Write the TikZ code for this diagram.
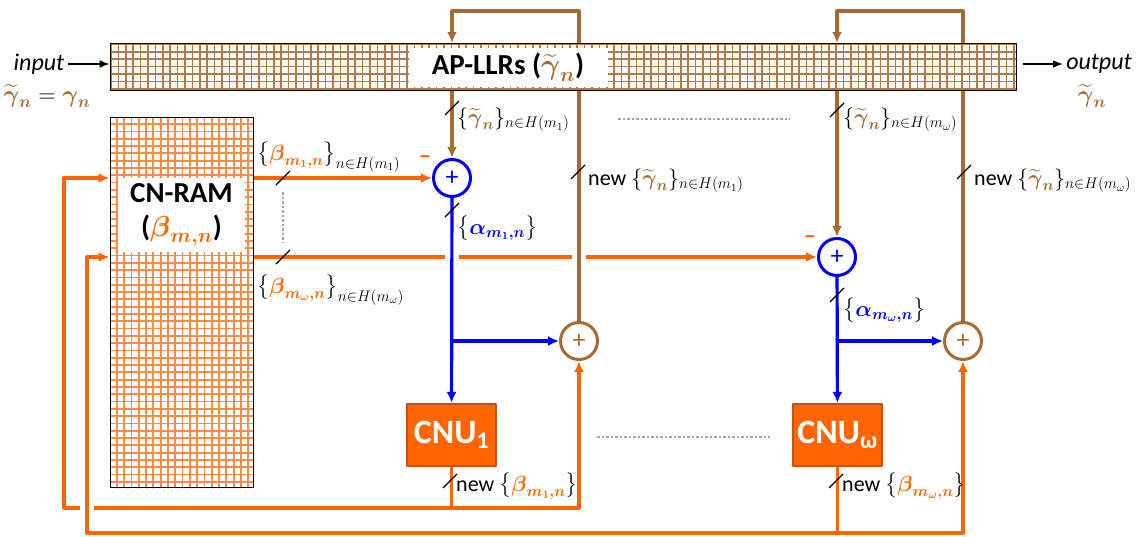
\RequirePackage{fix-cm}
\documentclass[tikz,border=0pt]{standalone}
\usepackage{amsmath}
\usepackage{fontspec}
\setmainfont{Carlito}
\usetikzlibrary{calc,arrows.meta}

\definecolor{llrbrown}{RGB}{166,106,52}
\definecolor{cnorange}{RGB}{255,102,0}
\definecolor{ramgrid}{RGB}{255,140,70}
\definecolor{cnuedge}{RGB}{200,80,20}

\newcommand{\tgam}{\textcolor{llrbrown}{\widetilde{\boldsymbol\gamma}_{\boldsymbol n}}}
\newcommand{\bmn}[1]{\textcolor{cnorange}{\boldsymbol\beta_{\boldsymbol{m_{#1},n}}}}
\newcommand{\amn}[1]{\textcolor{blue}{\boldsymbol\alpha_{\boldsymbol{m_{#1},n}}}}

\tikzset{busmark/.pic={\draw[black,line width=1.1pt] (-7,7) -- (7,-7);}}

\begin{document}
\begin{tikzpicture}[x=1pt,y=-1pt,line join=round,
  flow/.style={line width=3.2pt},
  tip/.style={-{Latex[length=11pt,width=10pt]}},
  sumnode/.style={circle,line width=3pt,minimum size=37pt,inner sep=0pt,font=\fontsize{26}{26}\selectfont},
  lbl/.style={font=\fontsize{22}{25}\selectfont,inner sep=0pt,anchor=base west},
  cnu/.style={fill=cnorange,draw=cnuedge,line width=2.2pt,minimum width=89pt,minimum height=62pt,text=white,font=\bfseries\fontsize{34}{36}\selectfont},
  dots/.style={gray!70,line width=2.2pt,dash pattern=on 2.5pt off 2pt}]
\useasboundingbox (0,0) rectangle (1145,536);
\coordinate (ytop) at (0,11);
\coordinate (aptop) at (0,43);
\coordinate (ybot1) at (0,508);
\coordinate (ybot2) at (0,533);
\coordinate (lx1) at (64,0);
\coordinate (lx2) at (87,0);

% adders and check node units
\node[sumnode,draw=blue,text=blue] (s1) at (452,178) {+};
\node[sumnode,draw=blue,text=blue] (s2) at (837,257) {+};
\node[sumnode,draw=llrbrown,text=llrbrown] (b1) at (579,341) {+};
\node[sumnode,draw=llrbrown,text=llrbrown] (b2) at (963,341) {+};
\node[cnu] (cnu1) at (451.5,435) {CNU\textsubscript{1}};
\node[cnu] (cnuw) at (837.5,435) {CNU\textsubscript{ω}};

% CN-RAM
\draw[ramgrid,line width=1.8pt,step=7.3pt] (110,117) grid (253,487);
\node[draw,line width=1pt,minimum width=143pt,minimum height=370pt,inner sep=0pt] (ram) at (181.5,302) {};
\node[fill=white,minimum width=127pt,minimum height=74pt,align=center,font=\bfseries\fontsize{29}{34}\selectfont] (ramlbl) at (181.5,215) {CN-RAM\\($\textcolor{cnorange}{\boldsymbol\beta_{\boldsymbol{m,n}}}$)};

% CN messages to the subtractors
\draw[cnorange,flow,tip] (ram.east |- s1) -- (s1);
\draw[cnorange,flow,tip] (ram.east |- s2) -- (s2);
\foreach \c in {s1,b1} \fill[white] ($(\c |- s2)+(-7,-3)$) rectangle ($(\c |- s2)+(7,3)$);

% updated AP-LLRs written back (behind the memory)
\draw[llrbrown,flow,tip] (b1) -- (b1 |- ytop) -- (s1 |- ytop) -- (s1 |- aptop);
\draw[llrbrown,flow,tip] (b2) -- (b2 |- ytop) -- (s2 |- ytop) -- (s2 |- aptop);

% AP-LLR memory
\fill[white] (110,43) rectangle (1016,90);
\draw[llrbrown!90,line width=1.7pt,step=7.4pt] (110,43) grid (1016,90);
\node[draw,line width=1pt,minimum width=906pt,minimum height=47pt,inner sep=0pt] (ap) at (563,66.5) {};
\node[fill=white,minimum width=199pt,minimum height=39pt,font=\bfseries\fontsize{29}{32}\selectfont] (aplbl) at (508,67) {AP-LLRs ($\tgam$)};

% input / output
\node[font=\itshape\fontsize{24}{26}\selectfont] (in) at (39,64) {input};
\node[font=\fontsize{24}{26}\selectfont] (ineq) at (47,96) {$\tgam = \textcolor{llrbrown}{\boldsymbol\gamma_{\boldsymbol n}}$};
\node[font=\itshape\fontsize{24}{26}\selectfont] (out) at (1099,64) {output};
\node[font=\fontsize{24}{26}\selectfont] (outg) at (1092,96) {$\tgam$};
\draw[line width=1.4pt,-{Latex[length=10pt,width=8pt]}] (in.east) -- (ap.west |- in.east);
\draw[line width=1.4pt,-{Latex[length=10pt,width=8pt]}] ($(ap.east |- out.west)+(6,0)$) -- (out.west);

% AP-LLRs to the subtractors
\draw[llrbrown,flow,tip] (ap.south -| s1) -- (s1);
\draw[llrbrown,flow,tip] (ap.south -| s2) -- (s2);

% VN-CN messages
\draw[blue,flow,tip] (s1) -- (cnu1);
\draw[blue,flow,tip] (s2) -- (cnuw);
\draw[blue,flow,tip] (s1 |- b1) -- (b1);
\draw[blue,flow,tip] (s2 |- b2) -- (b2);

% new CN messages back to the RAM and the adders
\draw[cnorange,flow,tip] (cnu1) -- (cnu1 |- ybot1) -- (lx1 |- ybot1) -- (lx1 |- s1) -- (ram.west |- s1);
\draw[cnorange,flow,tip] (cnu1 |- ybot1) -- (b1 |- ybot1) -- (b1);
\fill[white] ($(lx2 |- ybot1)+(-7,-3)$) rectangle ($(lx2 |- ybot1)+(7,3)$);
\draw[cnorange,flow,tip] (cnuw) -- (cnuw |- ybot2) -- (lx2 |- ybot2) -- (lx2 |- s2) -- (ram.west |- s2);
\draw[cnorange,flow,tip] (cnuw |- ybot2) -- (b2 |- ybot2) -- (b2);

% bus marks
\foreach \p in {(283,178),(283,257),(452,108),(578,172),(452,210),(450,481),(837,110),(964,172),(837,295),(836,481)}
  \pic at \p {busmark};

% labels
\node[lbl] (lb1) at (257,160) {$\big\{\bmn{1}\big\}_{n\in H(m_1)}$};
\node[lbl] (lbw) at (257,293) {$\big\{\bmn{\omega}\big\}_{n\in H(m_\omega)}$};
\node[lbl] (lg1) at (457,124) {$\{\tgam\}_{n\in H(m_1)}$};
\node[lbl] (lgw) at (843,124) {$\{\tgam\}_{n\in H(m_\omega)}$};
\node[lbl] (ln1) at (588,185) {new $\{\tgam\}_{n\in H(m_1)}$};
\node[lbl] (lnw) at (974,185) {new $\{\tgam\}_{n\in H(m_\omega)}$};
\node[lbl] (la1) at (457,234) {$\big\{\amn{1}\big\}$};
\node[lbl] (law) at (843,316) {$\big\{\amn{\omega}\big\}$};
\node[lbl] (lc1) at (456,491) {new $\big\{\bmn{1}\big\}$};
\node[lbl] (lcw) at (842,491) {new $\big\{\bmn{\omega}\big\}$};
\node[text=cnorange,font=\bfseries\fontsize{24}{24}\selectfont] (mn1) at (425,160) {–};
\node[text=cnorange,font=\bfseries\fontsize{24}{24}\selectfont] (mnw) at (810,240) {–};

% dotted ellipses
\draw[dots] (283,192) -- (283,243);
\draw[dots] (618,119) -- (790,119);
\draw[dots] (597,437) -- (770,437);
\end{tikzpicture}
\end{document}
